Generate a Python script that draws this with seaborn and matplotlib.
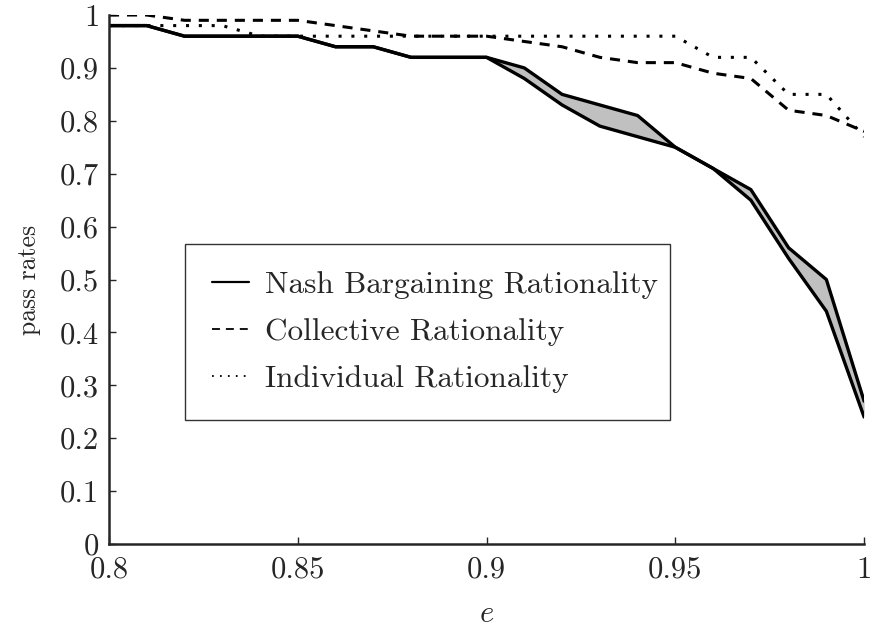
import numpy as np
import pandas as pd
import matplotlib
matplotlib.use('Agg')
import matplotlib.pyplot as plt
import seaborn as sns
from matplotlib.lines import Line2D

# data
e = [0.80, 0.81, 0.82, 0.83, 0.84, 0.85, 0.86, 0.87, 0.88, 0.89, 0.90,
     0.91, 0.92, 0.93, 0.94, 0.95, 0.96, 0.97, 0.98, 0.99, 1.00]
nash_upper = [0.98, 0.98, 0.96, 0.96, 0.96, 0.96, 0.94, 0.94, 0.92, 0.92, 0.92,
              0.90, 0.85, 0.83, 0.81, 0.75, 0.71, 0.67, 0.56, 0.50, 0.27]
nash_lower = [0.98, 0.98, 0.96, 0.96, 0.96, 0.96, 0.94, 0.94, 0.92, 0.92, 0.92,
              0.88, 0.83, 0.79, 0.77, 0.75, 0.71, 0.65, 0.54, 0.44, 0.24]
collective = [1.00, 1.00, 0.99, 0.99, 0.99, 0.99, 0.98, 0.97, 0.96, 0.96, 0.96,
              0.95, 0.94, 0.92, 0.91, 0.91, 0.89, 0.88, 0.82, 0.81, 0.78]
individual = [0.98, 0.98, 0.98, 0.98, 0.96, 0.96, 0.96, 0.96, 0.96, 0.96, 0.96,
              0.96, 0.96, 0.96, 0.96, 0.96, 0.92, 0.92, 0.85, 0.85, 0.77]
labels = ['Nash Bargaining Rationality', 'Collective Rationality', 'Individual Rationality']
xticks = [0.8, 0.85, 0.9, 0.95, 1.0]
xticklabels = ['0.8', '0.85', '0.9', '0.95', '1']
yticks = [0, 0.1, 0.2, 0.3, 0.4, 0.5, 0.6, 0.7, 0.8, 0.9, 1.0]
yticklabels = ['0', '0.1', '0.2', '0.3', '0.4', '0.5', '0.6', '0.7', '0.8', '0.9', '1']

df = pd.DataFrame({'e': e, 'nash_upper': nash_upper, 'nash_lower': nash_lower,
                   'collective': collective, 'individual': individual})

sns.set_style('ticks')
plt.rcParams['font.family'] = ['cmr10', 'DejaVu Serif']
plt.rcParams['mathtext.fontset'] = 'cm'
plt.rcParams['axes.formatter.use_mathtext'] = True

fig = plt.figure(figsize=(8.74, 6.42), dpi=100)
ax = fig.add_axes([0.1247, 0.1526, 0.864, 0.824])

# grey band between the two Nash curves
ax.fill_between(df['e'], df['nash_lower'], df['nash_upper'], color='#c0c0c0', lw=0)
sns.lineplot(data=df, x='e', y='nash_upper', ax=ax, color='black', lw=2.4)
sns.lineplot(data=df, x='e', y='nash_lower', ax=ax, color='black', lw=2.4)
sns.lineplot(data=df, x='e', y='collective', ax=ax, color='black', lw=2.2, ls=(0, (3.3, 2.6)))
sns.lineplot(data=df, x='e', y='individual', ax=ax, color='black', lw=2.2, ls=(0, (1, 3.2)))

ax.set_xlim(0.8, 1.0)
ax.set_ylim(0, 1.0)
ax.set_xticks(xticks)
ax.set_xticklabels(xticklabels)
ax.set_yticks(yticks)
ax.set_yticklabels(yticklabels)
ax.tick_params(direction='in', length=5, width=1, labelsize=22, pad=7)
ax.tick_params(axis='x', pad=9)
ax.set_xlabel('$e$', fontsize=22, labelpad=12)
ax.set_ylabel('pass rates', fontsize=18.5, labelpad=14)
sns.despine(ax=ax)
for s in ['left', 'bottom']:
    ax.spines[s].set_linewidth(1.8)

handles = [Line2D([], [], color='black', lw=1.6),
           Line2D([], [], color='black', lw=1.3, ls=(0, (4.4, 3.3))),
           Line2D([], [], color='black', lw=1.3, ls=(0, (1, 3.4)))]
leg = ax.legend(handles, labels, loc='upper left', bbox_to_anchor=(0.1007, 0.567, 0.642, 0.0),
                mode='expand', borderaxespad=0, fontsize=22.5, frameon=True, fancybox=False,
                edgecolor='black', handlelength=1.2, handletextpad=0.5,
                labelspacing=0.62, borderpad=0.85)
leg.get_frame().set_linewidth(1.0)

plt.savefig('out.png', dpi=100)
